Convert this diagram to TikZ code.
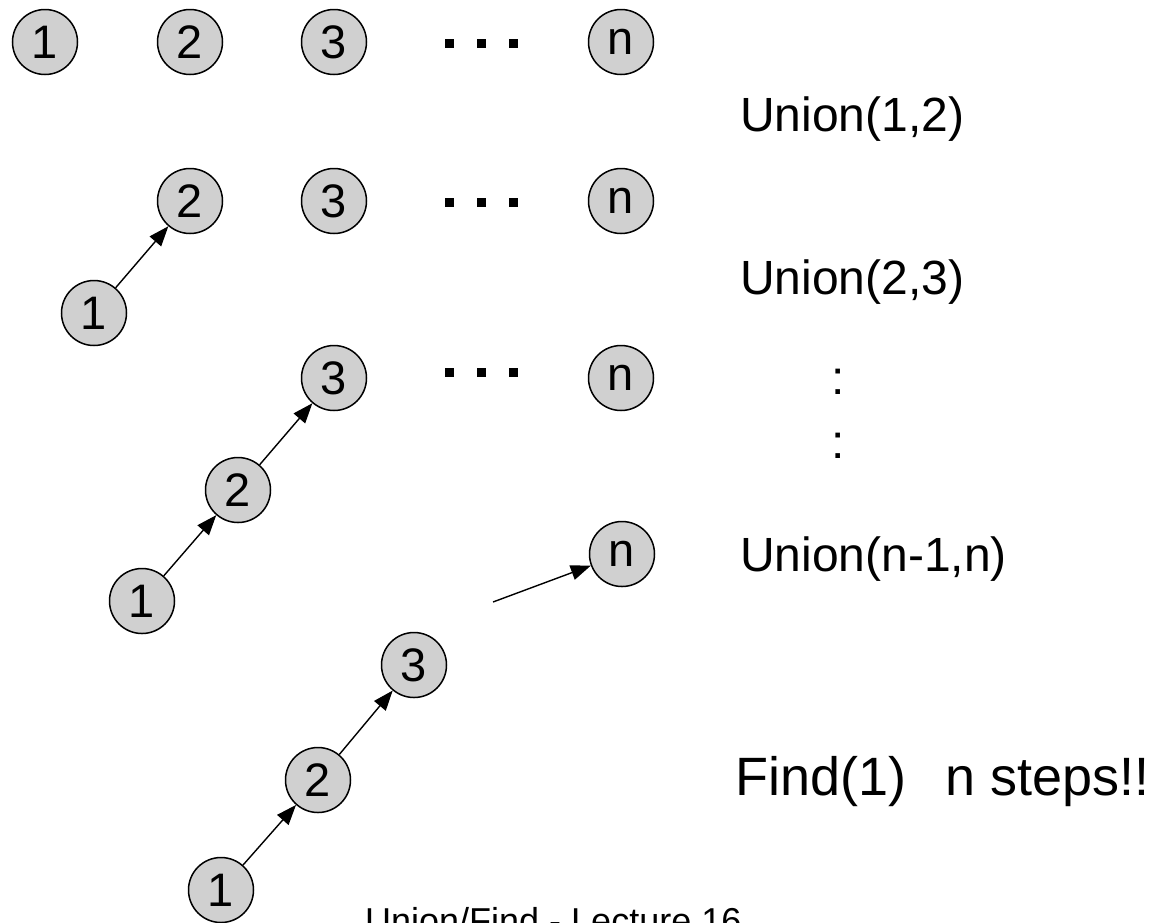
\documentclass[tikz,border=0pt]{standalone}
\usepackage{fontspec}
\setmainfont{Liberation Sans}
\usetikzlibrary{arrows.meta}
\definecolor{nodegray}{RGB}{208,208,208}
\begin{document}
\begin{tikzpicture}[x=1pt,y=-1pt,
  vert/.style={circle,draw=black,line width=1.5pt,fill=nodegray,minimum size=65pt,inner sep=0pt,font=\fontsize{47}{47}\selectfont},
  link/.style={line width=1.4pt,-{Triangle[length=20pt,width=15pt]}},
  sq/.style={rectangle,fill=black,minimum size=9pt,inner sep=0pt},
  lbl/.style={anchor=base west,inner sep=0pt,font=\fontsize{48}{48}\selectfont},
  big/.style={inner sep=0pt,font=\fontsize{54}{54}\selectfont},
  foot/.style={anchor=base west,inner sep=0pt,font=\fontsize{36}{36}\selectfont}]
\useasboundingbox[fill=white] (0,0) rectangle (1153,922);
% row 1
\node[vert] (a1) at (45,42) {1};
\node[vert] (a2) at (190,42) {2};
\node[vert] (a3) at (334,42) {3};
\node[sq] (ad1) at (449,43) {};
\node[sq] (ad2) at (481,43) {};
\node[sq] (ad3) at (513,43) {};
\node[vert] (an) at (621,42) {n};
\node[lbl] (u12) at (740,131) {Union(1,2)};
% row 2
\node[vert] (b2) at (190,201) {2};
\node[vert] (b3) at (334,201) {3};
\node[sq] (bd1) at (449,202) {};
\node[sq] (bd2) at (481,202) {};
\node[sq] (bd3) at (513,202) {};
\node[vert] (bn) at (621,201) {n};
\node[vert] (b1) at (94,313) {1};
\draw[link] (b1) -- (b2);
\node[lbl] (u23) at (740,294) {Union(2,3)};
% row 3
\node[vert] (c3) at (334,378) {3};
\node[sq] (cd1) at (449,372) {};
\node[sq] (cd2) at (481,372) {};
\node[sq] (cd3) at (513,372) {};
\node[vert] (cn) at (621,378) {n};
\node[vert] (c2) at (238,490) {2};
\node[vert] (c1) at (142,601) {1};
\draw[link] (c1) -- (c2);
\draw[link] (c2) -- (c3);
\node[lbl,anchor=base] (col1) at (838,394) {:};
\node[lbl,anchor=base] (col2) at (838,458) {:};
% row 4
\node[vert] (dn) at (622,554) {n};
\coordinate (dstart) at (493,602);
\draw[link] (dstart) -- (dn);
\node[lbl] (unn) at (740,571) {Union(n-1,n)};
\node[vert] (d3) at (414,665) {3};
\node[vert] (d2) at (318,780) {2};
\node[vert] (d1) at (221,890) {1};
\draw[link] (d1) -- (d2);
\draw[link] (d2) -- (d3);
\node[big,anchor=base west] (find) at (735,795) {Find(1)};
\node[big,anchor=base east] (steps) at (1150,795) {n steps!!};
\node[foot] (footer) at (365,933) {Union/Find - Lecture 16};
\end{tikzpicture}
\end{document}
